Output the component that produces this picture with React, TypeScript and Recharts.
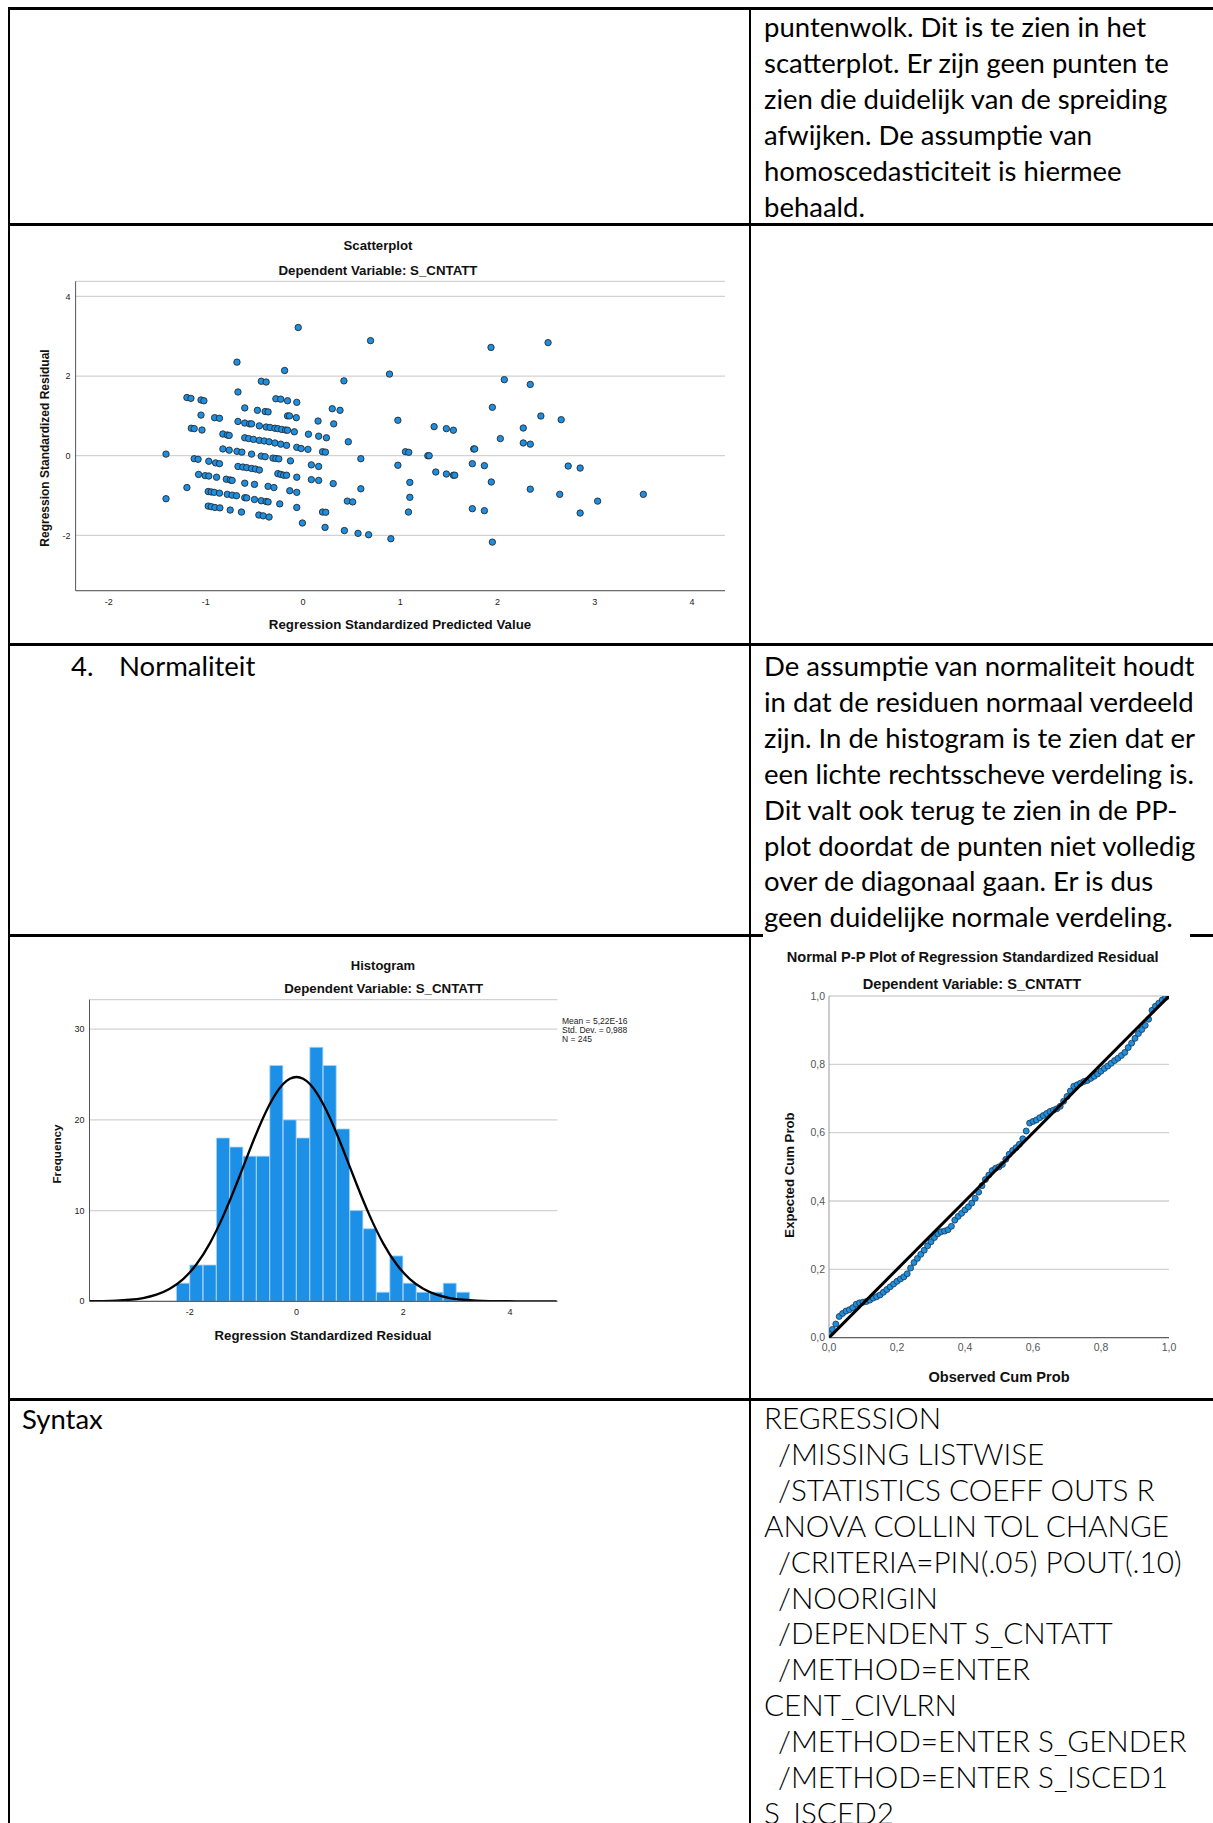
import React from "react";
import {
  ScatterChart,
  Scatter,
  ComposedChart,
  Bar,
  Line,
  XAxis,
  YAxis,
  CartesianGrid,
} from "recharts";

// scatterplot: standardized predicted value (x) vs standardized residual (y)
const predicted = [
  -0.68, -0.19, -0.05, -0.43, -0.38, 0.42, -0.67, -1.195, -1.154, -1.05,
  -1.02, -0.28, -0.23, -0.16, -0.065, -0.6, -0.47, -0.39, -0.36, 0.3,
  0.38, -1.05, -0.91, -0.86, -0.16, -0.14, -0.07, -0.67, -0.6, -0.55,
  -0.53, -0.45, -0.38, -0.34, -0.29, -0.26, -0.22, -0.18, -0.16, -0.09,
  0.154, 0.315, -1.15, -1.12, -1.04, -0.825, -0.78, -0.76, -0.6, -0.56,
  -0.51, -0.45, -0.4, -0.35, -0.29, -0.23, -0.17, 0.055, 0.16, 0.24,
  0.465, -0.825, -0.76, -0.68, -0.63, -0.53, -0.43, -0.39, -0.31, -0.28,
  -0.25, -0.13, -0.065, -0.02, 0.05, 0.2, 0.23, -1.41, -1.12, -1.08,
  -0.97, -0.9, -0.86, -0.67, -0.62, -0.58, -0.53, -0.49, -0.45, 0.085,
  0.16, -0.26, -0.23, -0.2, -0.17, -0.065, -1.075, -1.007, -0.97, -0.89,
  -0.79, -0.75, -0.73, -0.6, -0.5, -0.36, -0.3, 0.085, 0.16, 0.31,
  -1.195, -0.137, -0.065, -0.976, -0.945, -0.914, -0.86, -0.78, -0.73, -0.685,
  -0.6, -0.58, -0.5, -0.43, -0.38, -0.36, -0.24, -1.41, 0.455, 0.51,
  -0.976, -0.945, -0.907, -0.856, -0.75, -0.634, -0.065, -0.455, -0.41, -0.35,
  0.2, 0.233, -0.007, 0.226, 0.425, 0.565, 0.594,
  0.694, 1.933, 2.52, 0.889, 2.07, 2.337, 1.947, 2.446, 2.655, 0.975,
  1.348, 1.474, 1.546, 2.265, 2.029, 2.265, 2.337, 1.755, 1.765, 1.053,
  1.087, 1.283, 1.297, 0.975, 1.741, 1.865, 2.727, 2.85, 1.365, 1.474,
  1.546, 1.56, 1.098, 1.936, 0.594, 2.337, 2.64, 3.5, 3.03, 1.098,
  1.084, 1.741, 1.865, 2.85, 0.674, 0.903, 1.947,
];
const residual = [
  2.35, 2.14, 3.22, 1.87, 1.85, 1.88, 1.6, 1.46, 1.44, 1.4,
  1.38, 1.43, 1.42, 1.38, 1.34, 1.2, 1.14, 1.11, 1.1, 1.18,
  1.14, 1.02, 0.955, 0.94, 1.0, 1.0, 0.955, 0.86, 0.82, 0.8,
  0.8, 0.75, 0.72, 0.71, 0.69, 0.68, 0.66, 0.645, 0.64, 0.6,
  0.87, 0.8, 0.69, 0.68, 0.645, 0.545, 0.52, 0.51, 0.45, 0.43,
  0.41, 0.385, 0.37, 0.35, 0.32, 0.29, 0.26, 0.54, 0.49, 0.45,
  0.35, 0.17, 0.14, 0.11, 0.09, 0.04, -0.01, -0.025, -0.06, -0.07,
  -0.08, -0.13, 0.21, 0.18, 0.16, 0.1, 0.09, 0.04, -0.075, -0.09,
  -0.14, -0.18, -0.2, -0.27, -0.285, -0.3, -0.32, -0.335, -0.36, -0.23,
  -0.27, -0.45, -0.47, -0.49, -0.49, -0.54, -0.47, -0.5, -0.51, -0.54,
  -0.59, -0.61, -0.62, -0.69, -0.72, -0.77, -0.8, -0.6, -0.62, -0.7,
  -0.8, -0.88, -0.92, -0.9, -0.91, -0.92, -0.94, -0.97, -0.99, -1.005,
  -1.055, -1.06, -1.1, -1.13, -1.15, -1.16, -1.21, -1.08, -1.14, -1.16,
  -1.265, -1.28, -1.3, -1.31, -1.365, -1.415, -1.3, -1.49, -1.51, -1.54,
  -1.415, -1.42, -1.69, -1.8, -1.88, -1.95, -0.075,
  2.89, 2.72, 2.84, 2.05, 1.91, 1.79, 1.215, 0.997, 0.905, 0.89,
  0.73, 0.68, 0.64, 0.695, 0.43, 0.32, 0.29, 0.17, 0.17, 0.1,
  0.085, 0.0, 0.0, -0.24, -0.2, -0.25, -0.26, -0.31, -0.41, -0.46,
  -0.49, -0.49, -0.67, -0.66, -0.83, -0.84, -0.97, -0.97, -1.14, -1.045,
  -1.415, -1.33, -1.38, -1.44, -1.985, -2.085, -2.17,
];

// histogram of residuals, bins of 0.25 wide
const binMids = [
  -2.125, -1.875, -1.625, -1.375, -1.125, -0.875, -0.625, -0.375, -0.125, 0.125, 0.375,
  0.625, 0.875, 1.125, 1.375, 1.625, 1.875, 2.125, 2.375, 2.625, 2.875, 3.125,
];
const binCounts = [2, 4, 4, 18, 17, 16, 16, 26, 20, 18, 28, 26, 19, 10, 8, 1, 5, 2, 1, 1, 2, 1];
// normal curve
const curveX = [
  -3.875, -3.625, -3.375, -3.125, -2.875, -2.625, -2.375, -2.125, -1.875, -1.625, -1.375, -1.125,
  -0.875, -0.625, -0.375, -0.125, 0.125, 0.375, 0.625, 0.875, 1.125, 1.375, 1.625, 1.875,
  2.125, 2.375, 2.625, 2.875, 3.125, 3.375, 3.625, 3.875, 4.125, 4.375, 4.625, 4.875,
];
const curveFreq = [
  0.01, 0.03, 0.07, 0.17, 0.36, 0.73, 1.38, 2.45, 4.08, 6.39, 9.39, 12.93,
  16.71, 20.24, 23.01, 24.53, 24.53, 23.01, 20.24, 16.71, 12.93, 9.39, 6.39, 4.08,
  2.45, 1.38, 0.73, 0.36, 0.17, 0.07, 0.03, 0.01, 0, 0, 0, 0,
];
const histStats = ["Mean = 5,22E-16", "Std. Dev. = 0,988", "N = 245"];

// normal P-P plot
const ppObserved = [
  0, 0.01, 0.02, 0.03, 0.04, 0.05, 0.06, 0.07, 0.08, 0.09,
  0.1, 0.11, 0.12, 0.13, 0.14, 0.15, 0.16, 0.17, 0.18, 0.19,
  0.2, 0.21, 0.22, 0.23, 0.24, 0.25, 0.26, 0.27, 0.28, 0.29,
  0.3, 0.31, 0.32, 0.33, 0.34, 0.35, 0.36, 0.37, 0.38, 0.39,
  0.4, 0.41, 0.42, 0.43, 0.44, 0.45, 0.46, 0.47, 0.48, 0.49,
  0.5, 0.51, 0.52, 0.53, 0.54, 0.55, 0.56, 0.57, 0.58, 0.59,
  0.6, 0.61, 0.62, 0.63, 0.64, 0.65, 0.66, 0.67, 0.68, 0.69,
  0.7, 0.71, 0.72, 0.73, 0.74, 0.75, 0.76, 0.77, 0.78, 0.79,
  0.8, 0.81, 0.82, 0.83, 0.84, 0.85, 0.86, 0.87, 0.88, 0.89,
  0.9, 0.91, 0.92, 0.93, 0.94, 0.95, 0.96, 0.97, 0.98, 0.99, 1.0,
];
const ppExpected = [
  0.012, 0.024, 0.04, 0.062, 0.071, 0.078, 0.082, 0.088, 0.098, 0.102,
  0.104, 0.106, 0.11, 0.116, 0.12, 0.125, 0.133, 0.141, 0.149, 0.157,
  0.165, 0.172, 0.178, 0.187, 0.204, 0.22, 0.232, 0.244, 0.256, 0.269,
  0.281, 0.293, 0.304, 0.31, 0.312, 0.316, 0.326, 0.344, 0.355, 0.364,
  0.374, 0.383, 0.394, 0.408, 0.426, 0.445, 0.463, 0.476, 0.489, 0.496,
  0.5, 0.507, 0.522, 0.537, 0.548, 0.556, 0.566, 0.582, 0.605, 0.628,
  0.633, 0.637, 0.644, 0.65, 0.656, 0.662, 0.666, 0.67, 0.677, 0.692,
  0.706, 0.722, 0.736, 0.74, 0.745, 0.75, 0.753, 0.759, 0.765, 0.772,
  0.78, 0.788, 0.795, 0.803, 0.811, 0.818, 0.826, 0.835, 0.849, 0.862,
  0.876, 0.89, 0.902, 0.914, 0.932, 0.958, 0.97, 0.979, 0.988, 0.996, 1.0,
];
const ppDiagonal = [0, 1];

// text of the table cells
const homoText = [
  "puntenwolk. Dit is te zien in het",
  "scatterplot. Er zijn geen punten te",
  "zien die duidelijk van de spreiding",
  "afwijken. De assumptie van",
  "homoscedasticiteit is hiermee",
  "behaald.",
];
const normText = [
  "De assumptie van normaliteit houdt",
  "in dat de residuen normaal verdeeld",
  "zijn. In de histogram is te zien dat er",
  "een lichte rechtsscheve verdeling is.",
  "Dit valt ook terug te zien in de PP-",
  "plot doordat de punten niet volledig",
  "over de diagonaal gaan. Er is dus",
  "geen duidelijke normale verdeling.",
];
const syntaxLines = [
  "REGRESSION",
  " /MISSING LISTWISE",
  " /STATISTICS COEFF OUTS R",
  "ANOVA COLLIN TOL CHANGE",
  " /CRITERIA=PIN(.05) POUT(.10)",
  " /NOORIGIN",
  " /DEPENDENT S_CNTATT",
  " /METHOD=ENTER",
  "CENT_CIVLRN",
  " /METHOD=ENTER S_GENDER",
  " /METHOD=ENTER S_ISCED1",
  "S_ISCED2",
];

const scatterData = predicted.map((x, i) => ({ x, y: residual[i] }));
const histData = curveX.map((x, i) => {
  const b = binMids.indexOf(x);
  return { x, curve: curveFreq[i], count: b >= 0 ? binCounts[b] : null };
});
const ppData = ppObserved.map((x, i) => ({ x, y: ppExpected[i] }));
const diagData = ppDiagonal.map((v) => ({ x: v, y: v }));

const DOC_FONT = "Lato, 'Noto Sans', sans-serif";
const SPSS_FONT = "'Liberation Sans', Arial, sans-serif";
const LINE_H = 35.9;

const HLine = ({ y, x1, x2 }: { y: number; x1: number; x2: number }) => (
  <div style={{ position: "absolute", left: x1, top: y - 1.5, width: x2 - x1, height: 3, background: "#000" }} />
);
const VLine = ({ x, y1, y2 }: { x: number; y1: number; y2: number }) => (
  <div style={{ position: "absolute", left: x - 0.75, top: y1, width: 1.5, height: y2 - y1, background: "#000" }} />
);

const TextBlock = ({ x, y, lines, size, weight = 400, indent = 0 }: { x: number; y: number; lines: string[]; size: number; weight?: number; indent?: number }) => (
  <div style={{ position: "absolute", left: x, top: y, fontFamily: DOC_FONT, fontSize: size, fontWeight: weight, lineHeight: `${LINE_H}px`, color: "#000", whiteSpace: "pre" }}>
    {lines.map((l, i) => (
      <div key={i} style={{ marginLeft: l.startsWith(" ") ? indent : 0 }}>
        {indent ? l.trimStart() : l}
      </div>
    ))}
  </div>
);

const Caption = ({ x, y, size, rotate, children }: { x: number; y: number; size: number; rotate?: boolean; children: React.ReactNode }) => (
  <div
    style={{
      position: "absolute",
      left: x,
      top: y,
      transform: `translate(-50%, -50%)${rotate ? " rotate(-90deg)" : ""}`,
      whiteSpace: "nowrap",
      fontFamily: SPSS_FONT,
      fontSize: size,
      fontWeight: 700,
      lineHeight: 1,
      color: "#111",
    }}
  >
    {children}
  </div>
);

const scatterDot = (p: any) => (
  <circle cx={p.cx} cy={p.cy} r={3.2} fill="#1a8fe3" stroke="#2a2a2a" strokeWidth={0.9} />
);
const ppDot = (p: any) => (
  <circle cx={p.cx} cy={p.cy} r={3} fill="#1f8fdc" stroke="#1a3550" strokeWidth={0.8} />
);
const noDot = () => <g />;
const comma = (v: number) => v.toFixed(1).replace(".", ",");

const smallTick = { fontSize: 9, fill: "#222", fontFamily: SPSS_FONT };
const ppTick = { fontSize: 10.5, fill: "#555", fontFamily: SPSS_FONT };

export default function App() {
  return (
    <div style={{ position: "absolute", left: 0, top: 0, width: 1213, height: 1823, overflow: "hidden", background: "#fff" }}>
      {/* scatterplot */}
      <div style={{ position: "absolute", left: 0, top: 224 }}>
        <ScatterChart width={750} height={420} margin={{ top: 57.3, right: 25, bottom: 33.3, left: 35.6 }}>
          <CartesianGrid vertical={false} stroke="#d2d2d2" strokeWidth={1.3} />
          <XAxis
            type="number"
            dataKey="x"
            domain={[-2.34, 4.34]}
            ticks={[-2, -1, 0, 1, 2, 3, 4]}
            height={20}
            tickLine={false}
            tickSize={5}
            tickMargin={2.5}
            axisLine={{ stroke: "#555" }}
            tick={smallTick}
            allowDataOverflow
          />
          <YAxis
            type="number"
            dataKey="y"
            domain={[-3.39, 4.38]}
            ticks={[-2, 0, 2, 4]}
            width={40}
            tickLine={false}
            tickSize={3}
            tickMargin={2}
            axisLine={{ stroke: "#555" }}
            tick={smallTick}
            allowDataOverflow
          />
          <Scatter data={scatterData} shape={scatterDot} isAnimationActive={false} />
        </ScatterChart>
      </div>
      <Caption x={378} y={246} size={13.2}>Scatterplot</Caption>
      <Caption x={378} y={271} size={13.3}>Dependent Variable: S_CNTATT</Caption>
      <Caption x={400} y={625} size={13.3}>Regression Standardized Predicted Value</Caption>
      <Caption x={44.5} y={448} size={12} rotate>Regression Standardized Residual</Caption>

      {/* histogram */}
      <div style={{ position: "absolute", left: 0, top: 935 }}>
        <ComposedChart
          width={750}
          height={464}
          data={histData}
          margin={{ top: 64.7, right: 192.6, bottom: 77.7, left: 49.5 }}
          barCategoryGap={0}
          barGap={0}
        >
          <CartesianGrid vertical={false} stroke="#d2d2d2" strokeWidth={1.3} />
          <XAxis
            type="number"
            dataKey="x"
            domain={[-3.88, 4.89]}
            ticks={[-2, 0, 2, 4]}
            height={20}
            tickLine={false}
            tickSize={5}
            tickMargin={2}
            axisLine={{ stroke: "#444" }}
            tick={smallTick}
            allowDataOverflow
          />
          <YAxis
            type="number"
            domain={[0, 33.25]}
            ticks={[0, 10, 20, 30]}
            width={40}
            tickLine={false}
            tickSize={3}
            tickMargin={2}
            axisLine={{ stroke: "#555" }}
            tick={smallTick}
            allowDataOverflow
          />
          <Bar dataKey="count" fill="#1c8fe6" stroke="#a6d3f5" strokeWidth={0.8} isAnimationActive={false} />
          <Line dataKey="curve" type="natural" stroke="#000" strokeWidth={2.3} dot={false} isAnimationActive={false} />
        </ComposedChart>
      </div>
      <Caption x={383} y={965} size={13}>Histogram</Caption>
      <Caption x={383.7} y={988.5} size={13.3}>Dependent Variable: S_CNTATT</Caption>
      <Caption x={323} y={1336} size={13.2}>Regression Standardized Residual</Caption>
      <Caption x={57.4} y={1154} size={11.7} rotate>Frequency</Caption>
      <div style={{ position: "absolute", left: 562, top: 1016.5, fontFamily: SPSS_FONT, fontSize: 8.5, lineHeight: "9px", color: "#222" }}>
        {histStats.map((s) => (
          <div key={s}>{s}</div>
        ))}
      </div>

      {/* normal P-P plot */}
      <div style={{ position: "absolute", left: 750, top: 935 }}>
        <ScatterChart width={463} height={464} margin={{ top: 61, right: 44, bottom: 41.3, left: 39 }}>
          <CartesianGrid vertical={false} stroke="#d2d2d2" strokeWidth={1.3} />
          <XAxis
            type="number"
            dataKey="x"
            domain={[0, 1]}
            ticks={[0, 0.2, 0.4, 0.6, 0.8, 1]}
            tickFormatter={comma}
            height={20}
            tickLine={false}
            tickSize={4}
            tickMargin={2}
            axisLine={{ stroke: "#444" }}
            tick={ppTick}
            allowDataOverflow
          />
          <YAxis
            type="number"
            dataKey="y"
            domain={[0, 1]}
            ticks={[0, 0.2, 0.4, 0.6, 0.8, 1]}
            tickFormatter={comma}
            width={40}
            tickLine={false}
            tickSize={2}
            tickMargin={2}
            axisLine={{ stroke: "#999" }}
            tick={ppTick}
            allowDataOverflow
          />
          <Scatter data={ppData} shape={ppDot} isAnimationActive={false} />
          <Scatter data={diagData} shape={noDot} line={{ stroke: "#000", strokeWidth: 3 }} isAnimationActive={false} />
        </ScatterChart>
      </div>
      <Caption x={972.7} y={957} size={14.6}>Normal P-P Plot of Regression Standardized Residual</Caption>
      <Caption x={972} y={984} size={14.6}>Dependent Variable: S_CNTATT</Caption>
      <Caption x={999} y={1376.5} size={14.6}>Observed Cum Prob</Caption>
      <Caption x={790} y={1174.5} size={13.2} rotate>Expected Cum Prob</Caption>

      {/* table text */}
      <TextBlock x={764} y={9} lines={homoText} size={27.5} />
      <div style={{ position: "absolute", left: 71, top: 648, fontFamily: DOC_FONT, fontSize: 27.5, lineHeight: `${LINE_H}px` }}>4.</div>
      <div style={{ position: "absolute", left: 119, top: 648, fontFamily: DOC_FONT, fontSize: 27.5, lineHeight: `${LINE_H}px` }}>Normaliteit</div>
      <TextBlock x={764} y={648} lines={normText} size={27.5} />
      <div style={{ position: "absolute", left: 22, top: 1401, fontFamily: DOC_FONT, fontSize: 27.5, lineHeight: `${LINE_H}px` }}>Syntax</div>
      <TextBlock x={764} y={1400} lines={syntaxLines} size={29.7} weight={300} indent={14} />

      {/* table rules */}
      <HLine y={8.5} x1={8} x2={1213} />
      <HLine y={224} x1={8} x2={1213} />
      <HLine y={644} x1={8} x2={1213} />
      <HLine y={935} x1={8} x2={763} />
      <HLine y={935} x1={1190} x2={1213} />
      <HLine y={1399} x1={8} x2={1213} />
      <VLine x={9} y1={7} y2={1823} />
      <VLine x={750} y1={7} y2={1823} />
    </div>
  );
}
